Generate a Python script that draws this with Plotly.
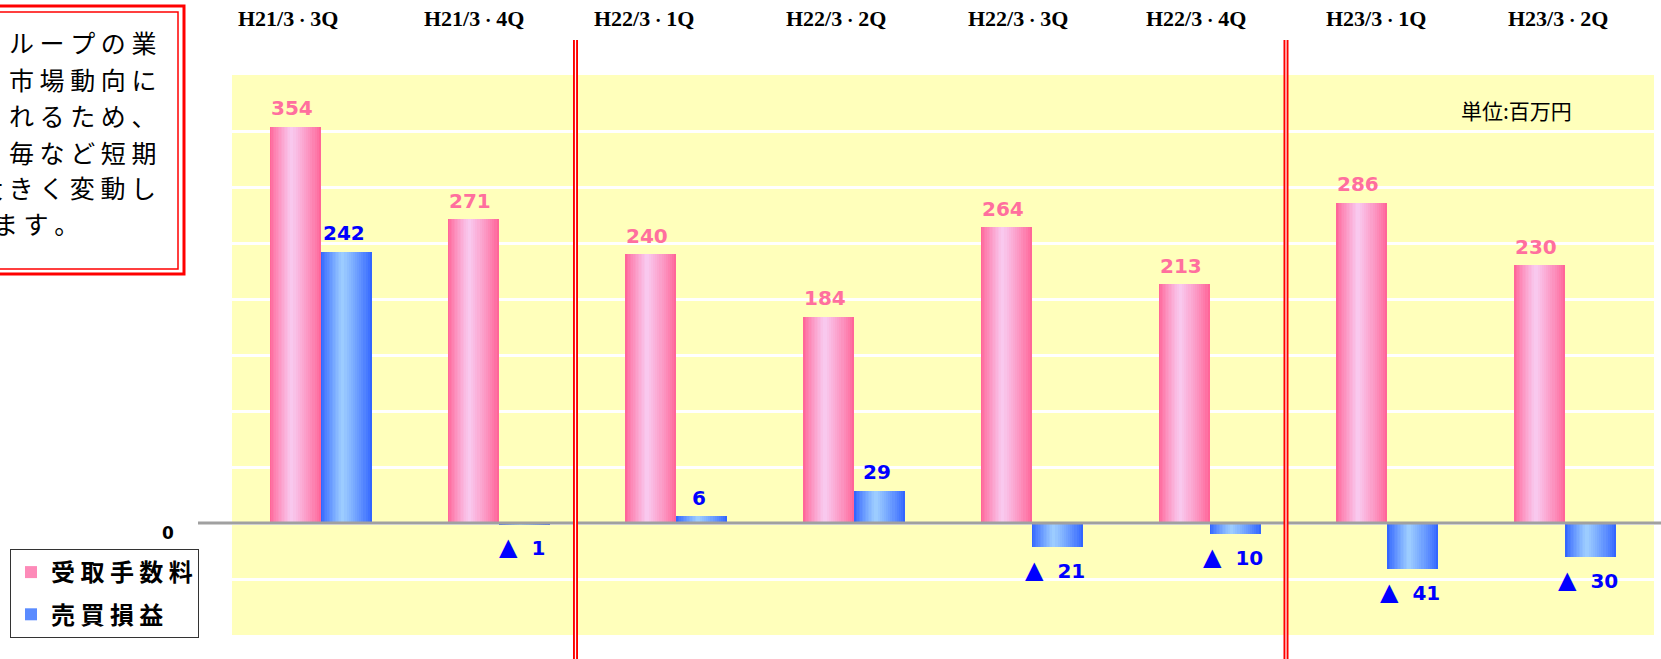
import plotly.graph_objects as go

# ---------------- data ----------------
quarters = ["H21/3・3Q", "H21/3・4Q", "H22/3・1Q", "H22/3・2Q",
            "H22/3・3Q", "H22/3・4Q", "H23/3・1Q", "H23/3・2Q"]
fees = [354, 271, 240, 184, 264, 213, 286, 230]          # 受取手数料
trading = [242, -1, 6, 29, -21, -10, -41, -30]          # 売買損益
series_names = ["受取手数料", "売買損益"]
note_lines = ["ループの業", "市場動向に", "れるため、", "毎など短期", "大きく変動し", "ます。"]
unit_label = "単位:百万円"
zero_label = "0"
y_ticks = [-50, 0, 50, 100, 150, 200, 250, 300, 350]

# ---------------- layout geometry (pixels) ----------------
W, H = 1661, 659
ML, MR, MT, MB = 232, 7, 75, 24
PW, PH = W - ML - MR, H - MT - MB


def px(x):
    return (x - ML) / PW


def py(y):
    return (H - MB - y) / PH


label_px = [288, 474, 644, 836, 1018, 1196, 1376, 1558]
note_y_px = [42, 79, 115, 152, 187, 223]

PINK_EDGE, PINK_LIGHT = "#FF6699", "#F9C8EE"
BLUE_EDGE, BLUE_LIGHT = "#3366FF", "#9CCCFF"
PINK_TXT, BLUE_TXT = "#FF6F9E", "#0000FF"


def hex2rgb(h):
    h = h.lstrip("#")
    return tuple(int(h[i:i + 2], 16) for i in (0, 2, 4))


def mix(c1, c2, t):
    a, b = hex2rgb(c1), hex2rgb(c2)
    return "rgb(%d,%d,%d)" % tuple(round(a[k] + (b[k] - a[k]) * t) for k in range(3))


N = 14
BW = 0.287
PEAK = 0.42

fig = go.Figure()


def add_gradient_bars(values, left0, edge, light, name):
    p = left0 + PEAK * BW
    for j in range(N):
        f = j / N
        l = p - PEAK * BW * (1 - f)
        r = p + (1 - PEAK) * BW * (1 - f)
        t = (j / (N - 1)) ** 0.85
        fig.add_trace(go.Bar(
            x=quarters, y=values, offset=l, width=r - l,
            marker=dict(color=mix(edge, light, t), line=dict(width=0)),
            name=" ".join(name), legendgroup=name,
            showlegend=(j == N // 3), hoverinfo="skip"))


add_gradient_bars(fees, -BW, PINK_EDGE, PINK_LIGHT, series_names[0])
add_gradient_bars(trading, 0.0, BLUE_EDGE, BLUE_LIGHT, series_names[1])

# value labels
for i, q in enumerate(quarters):
    fig.add_annotation(x=q, y=fees[i], xref="x", yref="y", text=str(fees[i]),
                       showarrow=False, xshift=-29, yshift=18.5, yanchor="middle",
                       font=dict(family="DejaVu Sans", size=20, color=PINK_TXT, weight="bold"))
    t = trading[i]
    if t >= 0:
        txt, ys = str(t), 18.5
    else:
        txt, ys = '<span style="font-size:24px">▲</span>\u00a0\u00a0' + str(-t), -23
    fig.add_annotation(x=q, y=t, xref="x", yref="y", text=txt,
                       showarrow=False, xshift=23, yshift=ys, yanchor="middle",
                       font=dict(family="DejaVu Sans", size=20, color=BLUE_TXT, weight="bold"))

# quarter labels on top (the middle dot drawn compact, as in the original)
for q, xp in zip(quarters, label_px):
    shown = q.replace("・", '<span style="font-size:16px">・</span>')
    fig.add_annotation(x=px(xp), y=py(19), xref="paper", yref="paper", text=shown,
                       showarrow=False, xanchor="center", yanchor="middle",
                       font=dict(family="Liberation Serif", size=22, color="black", weight="bold"))

# unit label
fig.add_annotation(x=px(1516), y=py(110), xref="paper", yref="paper", text=unit_label,
                   showarrow=False, xanchor="center", yanchor="middle",
                   font=dict(family="Noto Sans CJK JP", size=21, color="black"))

# zero label
fig.add_annotation(x=px(168), y=py(533), xref="paper", yref="paper", text=zero_label,
                   showarrow=False, xanchor="center", yanchor="middle",
                   font=dict(family="DejaVu Sans", size=17, color="black", weight="bold"))

# note box text
for k, (line, yy) in enumerate(zip(note_lines, note_y_px)):
    last = k == len(note_lines) - 1
    fig.add_annotation(x=px(-9 if last else 158), y=py(yy), xref="paper", yref="paper",
                       text=" ".join(line), showarrow=False,
                       xanchor="left" if last else "right", yanchor="middle",
                       font=dict(family="Noto Sans CJK JP", size=25, color="black"))

shapes = []
# note box double red border
shapes.append(dict(type="rect", xref="paper", yref="paper", x0=px(-10), x1=px(184),
                   y0=py(274), y1=py(6), line=dict(color="#FF0000", width=3), layer="above"))
shapes.append(dict(type="rect", xref="paper", yref="paper", x0=px(-10), x1=px(178),
                   y0=py(269), y1=py(12), line=dict(color="#FF0000", width=1.5), layer="above"))
# zero line
shapes.append(dict(type="line", xref="paper", yref="y", x0=px(198), x1=px(1665), y0=0, y1=0,
                   line=dict(color="#A0A0A0", width=3), layer="above"))
# red double separators
for xs in (575.5, 1286):
    shapes.append(dict(type="line", xref="paper", yref="paper", x0=px(xs), x1=px(xs),
                       y0=py(40), y1=py(665), line=dict(color="#FF0000", width=5), layer="above"))
    shapes.append(dict(type="line", xref="paper", yref="paper", x0=px(xs), x1=px(xs),
                       y0=py(40), y1=py(665), line=dict(color="#FFFFFF", width=1.2), layer="above"))

fig.update_layout(
    width=W, height=H,
    margin=dict(l=ML, r=MR, t=MT, b=MB, pad=0),
    paper_bgcolor="white", plot_bgcolor="#FFFFBB",
    barmode="overlay", bargap=0,
    font=dict(family="Noto Sans CJK JP", color="black"),
    shapes=shapes,
    showlegend=True,
    legend=dict(x=px(10), y=py(549), xanchor="left", yanchor="top",
                bgcolor="white", bordercolor="#333333", borderwidth=1,
                font=dict(family="Noto Sans CJK JP", size=24, color="black", weight="bold"),
                traceorder="grouped", tracegroupgap=8),
    xaxis=dict(type="category", range=[-0.5, 7.5], showticklabels=False, showgrid=False,
               zeroline=False, showline=False, ticks=""),
    yaxis=dict(range=[-100, 400], tickvals=y_ticks, showticklabels=False, showgrid=True,
               gridcolor="white", gridwidth=3, zeroline=False, showline=False, ticks=""),
)

fig.write_html("out.html")
